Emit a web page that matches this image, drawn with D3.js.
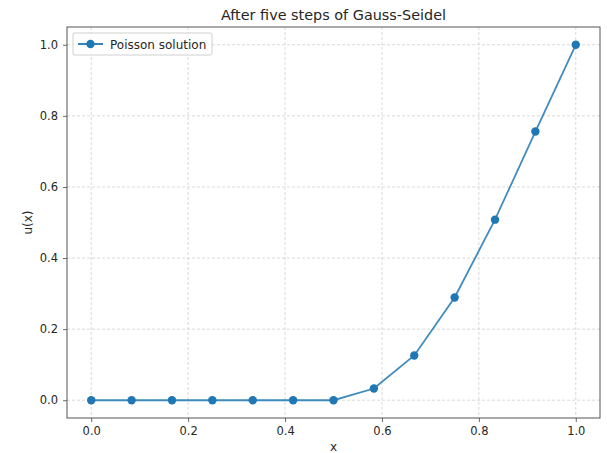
<!DOCTYPE html>
<html><head><meta charset="utf-8">
<script src="https://cdn.jsdelivr.net/npm/d3@7"></script>
<style>body{margin:0;background:#fff}svg{display:block}text{font-family:"DejaVu Sans",sans-serif;fill:#262626}</style>
</head><body>
<svg id="c" width="607" height="453"></svg>
<script>
const xValues = [0, 1/12, 2/12, 3/12, 4/12, 5/12, 6/12, 7/12, 8/12, 9/12, 10/12, 11/12, 1];
const uValues = [0, 0, 0, 0, 0, 0, 0, 0.033, 0.126, 0.289, 0.508, 0.756, 1.0];
const xTicks = [0, 0.2, 0.4, 0.6, 0.8, 1.0];
const yTicks = [0, 0.2, 0.4, 0.6, 0.8, 1.0];
const seriesName = "Poisson solution";
const titleText = "After five steps of Gauss-Seidel";

const svg = d3.select("#c");
const L = 67, R = 600, T = 27, B = 418;
const x = d3.scaleLinear().domain([-0.05, 1.05]).range([L, R]);
const y = d3.scaleLinear().domain([-0.05, 1.05]).range([B, T]);
const color = "#1f77b4";

// grid
const g = svg.append("g");
g.selectAll(".gx").data(xTicks).enter().append("line")
  .attr("x1", d => x(d)).attr("x2", d => x(d)).attr("y1", T).attr("y2", B)
  .attr("stroke", "#cfcfcf").attr("stroke-dasharray", "3,2").attr("stroke-width", 0.8);
g.selectAll(".gy").data(yTicks).enter().append("line")
  .attr("y1", d => y(d)).attr("y2", d => y(d)).attr("x1", L).attr("x2", R)
  .attr("stroke", "#cfcfcf").attr("stroke-dasharray", "3,2").attr("stroke-width", 0.8);

// axes
const xa = svg.append("g").attr("transform", `translate(0,${B})`)
  .call(d3.axisBottom(x).tickValues(xTicks).tickFormat(d3.format(".1f")).tickSize(4).tickPadding(5));
const ya = svg.append("g").attr("transform", `translate(${L},0)`)
  .call(d3.axisLeft(y).tickValues(yTicks).tickFormat(d3.format(".1f")).tickSize(4).tickPadding(5));
[xa, ya].forEach(a => {
  a.select(".domain").remove();
  a.selectAll("line").attr("stroke", "#444").attr("stroke-width", 0.8);
  a.selectAll("text").attr("font-size", 11.5).attr("fill", "#262626").style("font-family", "DejaVu Sans");
});

// frame
svg.append("rect").attr("x", L).attr("y", T).attr("width", R - L).attr("height", B - T)
  .attr("fill", "none").attr("stroke", "#555").attr("stroke-width", 1);

// line
const pts = xValues.map((v, i) => [v, uValues[i]]);
svg.append("path").datum(pts)
  .attr("d", d3.line().x(d => x(d[0])).y(d => y(d[1])))
  .attr("fill", "none").attr("stroke", color).attr("stroke-width", 1.8).attr("opacity", 0.85);
svg.selectAll(".pt").data(pts).enter().append("circle")
  .attr("cx", d => x(d[0])).attr("cy", d => y(d[1])).attr("r", 4.2).attr("fill", color);

// labels
svg.append("text").attr("x", (L + R) / 2).attr("y", 20).attr("text-anchor", "middle")
  .attr("font-size", 14.4).text(titleText);
svg.append("text").attr("x", (L + R) / 2).attr("y", 451).attr("text-anchor", "middle")
  .attr("font-size", 12).text("x");
svg.append("text").attr("transform", `translate(32,${(T + B) / 2}) rotate(-90)`)
  .attr("text-anchor", "middle").attr("font-size", 12).text("u(x)");

// legend
const lg = svg.append("g");
lg.append("rect").attr("x", 73).attr("y", 33).attr("width", 139).attr("height", 22).attr("rx", 2)
  .attr("fill", "#fff").attr("fill-opacity", 0.8).attr("stroke", "#d0d0d0");
lg.append("line").attr("x1", 78).attr("x2", 103).attr("y1", 44).attr("y2", 44)
  .attr("stroke", color).attr("stroke-width", 1.8);
lg.append("circle").attr("cx", 90.5).attr("cy", 44).attr("r", 4.2).attr("fill", color);
lg.append("text").attr("x", 110).attr("y", 48.5).attr("font-size", 12).text(seriesName);
</script>
</body></html>
